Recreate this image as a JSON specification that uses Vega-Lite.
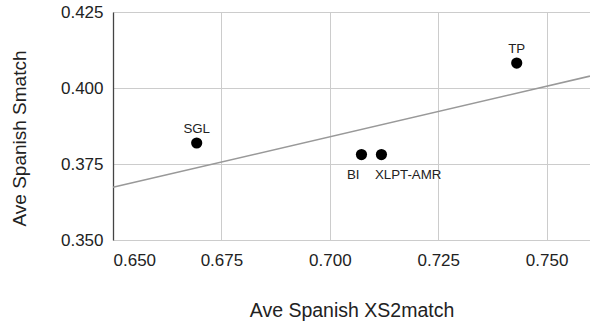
{
  "$schema": "https://vega.github.io/schema/vega-lite/v6.json",
  "autosize": "none",
  "padding": {"left": 113, "top": 12, "right": 0, "bottom": 84},
  "width": 477,
  "height": 228,
  "background": "white",
  "config": {
    "view": {"stroke": null},
    "font": "Liberation Sans",
    "axis": {"labelFont": "Liberation Sans", "titleFont": "Liberation Sans", "labelColor": "#222", "titleColor": "#222", "titleFontWeight": "normal", "gridColor": "#cccccc", "gridWidth": 1, "ticks": false, "tickSize": 0}
  },
  "data": {
    "values": [
      {"model": "SGL", "xs2match": 0.6693, "smatch": 0.3819},
      {"model": "TP", "xs2match": 0.7431, "smatch": 0.4082},
      {"model": "BI", "xs2match": 0.7073, "smatch": 0.3781},
      {"model": "XLPT-AMR", "xs2match": 0.7119, "smatch": 0.3781}
    ]
  },
  "encoding": {
    "x": {
      "field": "xs2match", "type": "quantitative",
      "scale": {"domain": [0.65, 0.76], "nice": false, "zero": false},
      "axis": {"title": "Ave Spanish XS2match", "values": [0.65, 0.675, 0.7, 0.725, 0.75], "format": ".3f", "domain": false, "labelFontSize": 17, "titleFontSize": 19.5, "labelPadding": 12, "titlePadding": 33}
    },
    "y": {
      "field": "smatch", "type": "quantitative",
      "scale": {"domain": [0.35, 0.425], "nice": false, "zero": false},
      "axis": {"title": "Ave Spanish Smatch", "values": [0.35, 0.375, 0.4, 0.425], "format": ".3f", "domain": true, "domainColor": "#444", "domainWidth": 1.3, "labelFontSize": 17, "titleFontSize": 19, "labelPadding": 10, "titlePadding": 31, "titleY": 126}
    }
  },
  "layer": [
    {
      "transform": [{"regression": "smatch", "on": "xs2match", "extent": [0.65, 0.76]}],
      "mark": {"type": "line", "color": "#999999", "strokeWidth": 1.6}
    },
    {
      "mark": {"type": "circle", "color": "#000000", "opacity": 1, "size": 125}
    },
    {
      "transform": [{"filter": "datum.model === 'SGL' || datum.model === 'TP'"}],
      "mark": {"type": "text", "fontSize": 13.3, "color": "#222", "baseline": "alphabetic", "align": "center", "dy": -10.5},
      "encoding": {"text": {"field": "model"}}
    },
    {
      "transform": [{"filter": "datum.model === 'BI'"}],
      "mark": {"type": "text", "fontSize": 13.3, "color": "#222", "baseline": "alphabetic", "align": "right", "dx": -2, "dy": 24.5},
      "encoding": {"text": {"field": "model"}}
    },
    {
      "transform": [{"filter": "datum.model === 'XLPT-AMR'"}],
      "mark": {"type": "text", "fontSize": 13.3, "color": "#222", "baseline": "alphabetic", "align": "left", "dx": -6.5, "dy": 24.5},
      "encoding": {"text": {"field": "model"}}
    }
  ]
}
